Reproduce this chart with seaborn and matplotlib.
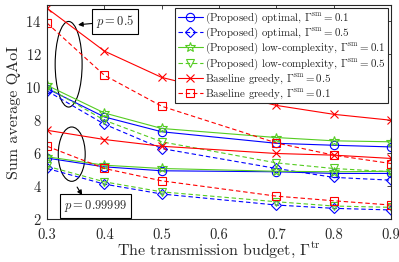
import matplotlib
matplotlib.use("Agg")
import matplotlib.pyplot as plt
import seaborn as sns
import numpy as np
import pandas as pd
from matplotlib.patches import Ellipse

# ---- data ----
budget = [0.3, 0.4, 0.5, 0.7, 0.8, 0.9]

# p = 0.5 group
opt_01_p05 = [9.92, 8.20, 7.30, 6.60, 6.48, 6.38]
opt_05_p05 = [9.78, 7.76, 6.28, 5.07, 4.53, 4.36]
low_01_p05 = [10.12, 8.44, 7.50, 6.95, 6.75, 6.69]
low_05_p05 = [10.00, 8.00, 6.69, 5.41, 5.07, 4.87]
grd_05_p05 = [14.80, 12.20, 10.60, 8.90, 8.36, 8.00]
grd_01_p05 = [13.90, 10.73, 8.85, 6.62, 5.88, 5.37]

# p = 0.99999 group
opt_01_p1 = [5.70, 5.17, 4.93, 4.87, 4.77, 4.77]
opt_05_p1 = [5.07, 4.12, 3.52, 2.85, 2.65, 2.55]
low_01_p1 = [5.78, 5.27, 5.07, 4.90, 4.87, 4.90]
low_05_p1 = [5.21, 4.26, 3.65, 3.05, 2.79, 2.71]
grd_05_p1 = [7.39, 6.83, 6.42, 5.98, 5.88, 5.68]
grd_01_p1 = [6.42, 5.07, 4.32, 3.39, 3.11, 2.85]

labels = [
    r"(Proposed) optimal, $\Gamma^{\mathrm{sm}}=0.1$",
    r"(Proposed) optimal, $\Gamma^{\mathrm{sm}}=0.5$",
    r"(Proposed) low-complexity, $\Gamma^{\mathrm{sm}}=0.1$",
    r"(Proposed) low-complexity, $\Gamma^{\mathrm{sm}}=0.5$",
    r"Baseline greedy, $\Gamma^{\mathrm{sm}}=0.5$",
    r"Baseline greedy, $\Gamma^{\mathrm{sm}}=0.1$",
]
xticks = [0.3, 0.4, 0.5, 0.6, 0.7, 0.8, 0.9]
yticks = [2, 4, 6, 8, 10, 12, 14]

# ---- style ----
sns.set_theme(style="white")
plt.rcParams["font.family"] = ["cmr10"]
plt.rcParams["mathtext.fontset"] = "cm"
plt.rcParams["axes.formatter.use_mathtext"] = True
plt.rcParams["axes.unicode_minus"] = False

BLUE = "#0000ff"
GREEN = "#55cc22"
RED = "#ff0000"
DASH = (0, (4, 2.5))

styles = [
    dict(color=BLUE, marker="o", ls="-"),
    dict(color=BLUE, marker="D", ls=DASH),
    dict(color=GREEN, marker="*", ls="-"),
    dict(color=GREEN, marker="v", ls=DASH),
    dict(color=RED, marker="x", ls="-"),
    dict(color=RED, marker="s", ls=DASH),
]
msizes = [6, 5, 7.5, 6, 5.5, 5.5]

upper = [opt_01_p05, opt_05_p05, low_01_p05, low_05_p05, grd_05_p05, grd_01_p05]
lower = [opt_01_p1, opt_05_p1, low_01_p1, low_05_p1, grd_05_p1, grd_01_p1]

fig = plt.figure(figsize=(3.99, 2.62), dpi=100)
ax = fig.add_axes([0.118, 0.164, 0.862, 0.817])

for i, st in enumerate(styles):
    for grp, lab in ((upper, labels[i]), (lower, None)):
        df = pd.DataFrame({"x": budget, "y": grp[i]})
        sns.lineplot(data=df, x="x", y="y", ax=ax, color=st["color"],
                     linestyle=st["ls"], marker=st["marker"],
                     markersize=msizes[i], markerfacecolor="none",
                     markeredgecolor=st["color"], markeredgewidth=0.8,
                     linewidth=0.8, label=lab, legend=False)

ax.set_xlim(0.3, 0.9)
ax.set_ylim(2, 15)
ax.set_xticks(xticks)
ax.set_yticks(yticks)
ax.set_xticklabels([f"{v:.1f}" for v in xticks])
ax.tick_params(direction="in", length=3, width=0.6, top=True, right=True,
               labelsize=10.5, colors="#262626", pad=4)
ax.tick_params(axis="x", pad=7)
for s in ax.spines.values():
    s.set_linewidth(0.8)
    s.set_color("#262626")

ax.set_xlabel(r"The transmission budget, $\Gamma^{\mathrm{tr}}$", fontsize=11.5,
              labelpad=-1, color="#262626")
ax.set_ylabel("Sum average QAoI", fontsize=11.5, labelpad=3, color="#262626")

leg = ax.legend(loc="upper right", fontsize=7.9, frameon=True, fancybox=False,
                edgecolor="#262626", framealpha=1, borderpad=0.25,
                labelspacing=0.0, handlelength=2.3, handletextpad=0.2,
                borderaxespad=0.25)
leg.get_frame().set_linewidth(0.8)

# ellipses
ax.add_patch(Ellipse((0.3376, 11.4), 0.047, 5.2, fill=False, ec="black", lw=0.8))
ax.add_patch(Ellipse((0.343, 5.94), 0.047, 3.3, fill=False, ec="black", lw=0.8))

# annotation boxes
bbox = dict(boxstyle="square,pad=0.3", fc="white", ec="black", lw=0.8)
ax.annotate(r"$p=0.5$", xy=(0.354, 13.8), xytext=(0.419, 14.0),
            fontsize=9, va="center", ha="center", bbox=bbox,
            arrowprops=dict(arrowstyle="-|>", color="black", lw=0.8,
                            mutation_scale=7, shrinkA=0, shrinkB=0))
ax.text(0.384, 2.79, r"$p=0.99999$", fontsize=9, va="center", ha="center",
        bbox=bbox)
ax.annotate("", xy=(0.3612, 3.45), xytext=(0.3524, 3.94),
            arrowprops=dict(arrowstyle="-|>", color="black", lw=0.8,
                            mutation_scale=7, shrinkA=0, shrinkB=0))

fig.savefig("out.png", dpi=100)
